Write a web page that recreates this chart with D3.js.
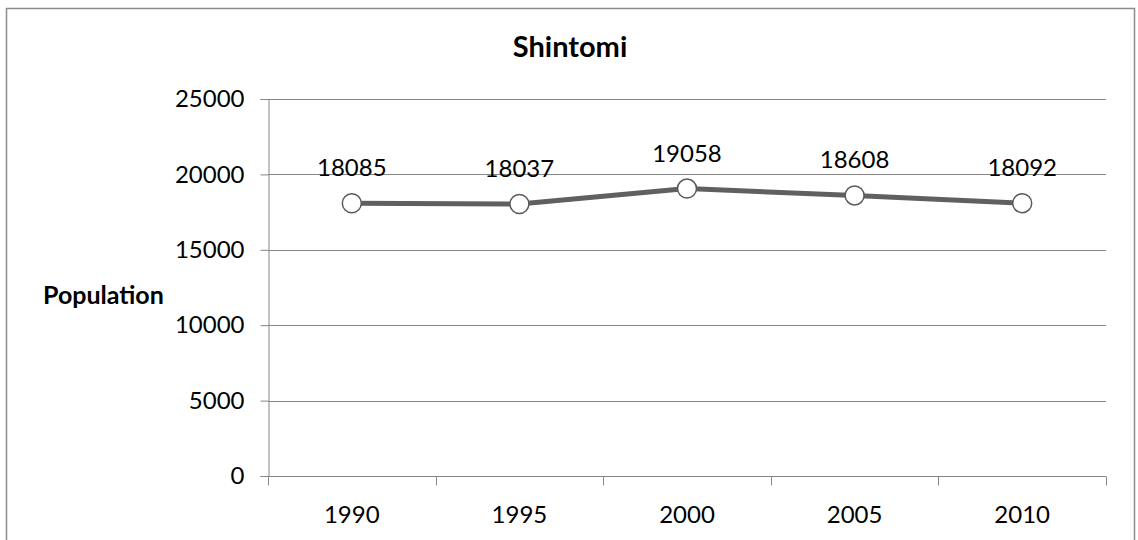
<!DOCTYPE html>
<html>
<head>
<meta charset="utf-8">
<script src="https://cdn.jsdelivr.net/npm/d3@7"></script>
<style>
  html, body { margin: 0; padding: 0; background: #fff; }
  svg { display: block; font-family: Lato, "Open Sans", sans-serif; }
</style>
</head>
<body>
<svg id="chart" width="1138" height="540"></svg>
<script>
// Census population of Shintomi, by year
const years = ["1990", "1995", "2000", "2005", "2010"];
const population = [18085, 18037, 19058, 18608, 18092];
const yTicks = [0, 5000, 10000, 15000, 20000, 25000];
const chartTitle = "Shintomi";
const yAxisTitle = "Population";

const svg = d3.select("#chart");
const plot = { left: 268, right: 1106, top: 99, bottom: 476 };
const labelSize = 24;

// Outer chart frame
svg.append("rect")
  .attr("x", 6.5).attr("y", 8.5)
  .attr("width", 1128).attr("height", 560)
  .attr("fill", "#fff").attr("stroke", "#8c8c8c").attr("stroke-width", 1.5);

const x = d3.scaleBand().domain(years).range([plot.left, plot.right]).padding(0);
const y = d3.scaleLinear().domain([0, 25000]).range([plot.bottom, plot.top]);

// Horizontal gridlines
svg.append("g").selectAll("line").data(yTicks.filter(d => d > 0)).join("line")
  .attr("x1", plot.left).attr("x2", plot.right)
  .attr("y1", d => Math.round(y(d)) + 0.5).attr("y2", d => Math.round(y(d)) + 0.5)
  .attr("stroke", "#868686").attr("stroke-width", 1);

// Y axis
const yAxis = svg.append("g")
  .attr("transform", `translate(${plot.left + 0.5},0)`)
  .call(d3.axisLeft(y).tickValues(yTicks).tickSize(8).tickPadding(16).tickFormat(d3.format("d")));
yAxis.select(".domain").attr("stroke", "#868686");
yAxis.selectAll(".tick line").attr("stroke", "#868686");
yAxis.selectAll(".tick text").attr("font-size", labelSize).attr("fill", "#000")
  .attr("font-family", "Lato, sans-serif");

// X axis: ticks sit on the category boundaries
const xAxisG = svg.append("g").attr("transform", `translate(0,${plot.bottom + 0.5})`);
xAxisG.append("line")
  .attr("x1", plot.left).attr("x2", plot.right)
  .attr("stroke", "#868686");
const boundaries = years.map(d => x(d)).concat([x(years[years.length - 1]) + x.bandwidth()]);
xAxisG.selectAll("line.tk").data(boundaries).join("line").attr("class", "tk")
  .attr("x1", d => Math.round(d) + 0.5).attr("x2", d => Math.round(d) + 0.5)
  .attr("y1", 0).attr("y2", 9)
  .attr("stroke", "#868686");
xAxisG.selectAll("text").data(years).join("text")
  .attr("x", d => x(d) + x.bandwidth() / 2)
  .attr("y", 46)
  .attr("text-anchor", "middle")
  .attr("font-size", labelSize).attr("fill", "#000")
  .text(d => d);

// Titles
svg.append("text")
  .attr("x", 570).attr("y", 57)
  .attr("text-anchor", "middle")
  .attr("font-size", 29).attr("font-weight", "bold")
  .text(chartTitle);
svg.append("text")
  .attr("x", 43).attr("y", 304)
  .attr("font-size", 25).attr("font-weight", "bold")
  .text(yAxisTitle);

// Series line
const pts = years.map((d, i) => ({ year: d, value: population[i] }));
const line = d3.line()
  .x(d => x(d.year) + x.bandwidth() / 2)
  .y(d => y(d.value));
svg.append("path").datum(pts)
  .attr("d", line)
  .attr("fill", "none").attr("stroke", "#606060").attr("stroke-width", 5)
  .attr("stroke-linejoin", "round");

// Markers
svg.append("g").selectAll("circle").data(pts).join("circle")
  .attr("cx", d => x(d.year) + x.bandwidth() / 2)
  .attr("cy", d => y(d.value))
  .attr("r", 9.5)
  .attr("fill", "#fff").attr("stroke", "#5a5a5a").attr("stroke-width", 1.5);

// Value labels
svg.append("g").selectAll("text").data(pts).join("text")
  .attr("x", d => x(d.year) + x.bandwidth() / 2)
  .attr("y", d => y(d.value) - 27)
  .attr("text-anchor", "middle")
  .attr("font-size", labelSize).attr("fill", "#000")
  .text(d => d.value);
</script>
</body>
</html>
